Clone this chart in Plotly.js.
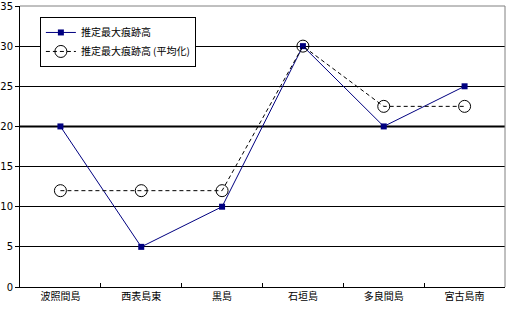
<!DOCTYPE html>
<html><head><meta charset="utf-8">
<script src="https://cdn.plot.ly/plotly-3.0.1.min.js"></script>
<style>body{margin:0;padding:0;background:#fff}#c{width:506px;height:309px}</style>
</head><body><div id="c"></div>
<script>
const categories = ['波照間島','西表島東','黒島','石垣島','多良間島','宮古島南'];
const seriesMax = [20, 5, 10, 30, 20, 25];
const seriesAvg = [12, 12, 12, 30, 22.5, 22.5];
const seriesNames = ['推定最大痕跡高','推定最大痕跡高 (平均化)'];
const yTicks = [0,5,10,15,20,25,30,35];

const font = "'Noto Sans CJK JP', 'DejaVu Sans', sans-serif";
const traces = [
  {x: categories, y: seriesMax, name: seriesNames[0], type: 'scatter', mode: 'lines+markers',
   line: {color: '#000080', width: 1}, marker: {symbol: 'square', size: 6, color: '#000080'}},
  {x: categories, y: seriesAvg, name: seriesNames[1], type: 'scatter', mode: 'lines+markers',
   line: {color: '#000000', width: 1, dash: '4px,3px'},
   marker: {symbol: 'circle-open', size: 12, color: '#000000', line: {width: 1}}}
];
const layout = {
  width: 506, height: 309,
  margin: {l: 20, r: 1, t: 6, b: 22},
  paper_bgcolor: '#fff', plot_bgcolor: '#fff',
  showlegend: true,
  font: {family: font, size: 10, color: '#000'},
  xaxis: {type: 'category', tickson: 'boundaries', ticks: 'inside', ticklen: 4, tickcolor: '#000',
    showgrid: false, showline: true, linecolor: '#000', linewidth: 1, range: [-0.5, 5.5],
    tickfont: {family: font, size: 10}, zeroline: false, fixedrange: true},
  yaxis: {range: [0, 35], tickvals: yTicks, ticks: 'outside', ticklen: 4, tickcolor: '#000',
    showgrid: true, gridcolor: '#000', gridwidth: 1, showline: true, linecolor: '#000', linewidth: 1,
    zeroline: false, tickfont: {family: "'DejaVu Sans', sans-serif", size: 10}},
  legend: {x: 0.041, y: 0.961, xanchor: 'left', yanchor: 'top', bgcolor: '#fff',
    bordercolor: '#000', borderwidth: 1, font: {family: font, size: 10}, tracegroupgap: 0},
  shapes: [
    {type: 'line', xref: 'paper', yref: 'y', x0: 0, x1: 1, y0: 20, y1: 20, line: {color: '#000', width: 2}, layer: 'below'},
    {type: 'line', xref: 'paper', yref: 'paper', x0: 0, x1: 1, y0: 1, y1: 1, line: {color: '#808080', width: 1}},
    {type: 'line', xref: 'paper', yref: 'paper', x0: 1, x1: 1, y0: 0, y1: 1, line: {color: '#808080', width: 1}}
  ]
};
Plotly.newPlot('c', traces, layout, {displayModeBar: false, staticPlot: true});
</script></body></html>
